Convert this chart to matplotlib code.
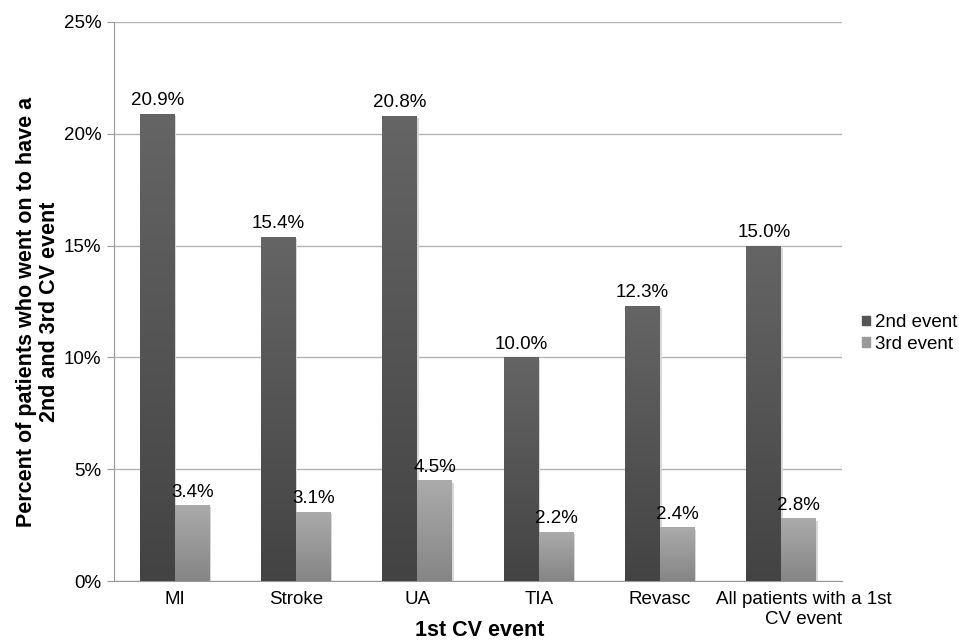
import numpy as np
import matplotlib.pyplot as plt
import matplotlib.transforms as mtransforms
from matplotlib.colors import LinearSegmentedColormap
from matplotlib.patches import Patch

plt.rcParams['font.family'] = ['Liberation Sans', 'DejaVu Sans']

categories = ['MI', 'Stroke', 'UA', 'TIA', 'Revasc', 'All patients with a 1st\nCV event']
second_event = [20.9, 15.4, 20.8, 10.0, 12.3, 15.0]
third_event = [3.4, 3.1, 4.5, 2.2, 2.4, 2.8]
series_names = ['2nd event', '3rd event']

fig = plt.figure(figsize=(9.59, 6.41), dpi=100)
ax = fig.add_axes([0.1189, 0.0936, 0.7592, 0.8721])

x = np.arange(len(categories))
w = 0.288
fs = 13.5

# gradient colormaps (bottom -> top)
cm_dark = LinearSegmentedColormap.from_list('d', ['#434343', '#656565'])
cm_light = LinearSegmentedColormap.from_list('l', ['#858585', '#ababab'])
grad = np.linspace(0, 1, 256).reshape(-1, 1)

def gradient_bars(xs, vals, cmap, color):
    bars = ax.bar(xs, vals, w, color=color, zorder=3, linewidth=0)
    for b in bars:
        x0, y0 = b.get_x(), b.get_y()
        # soft shadow
        ax.add_patch(plt.Rectangle((x0 + 0.012, y0), b.get_width(), b.get_height() - 0.1,
                                   color='#d8d8d8', zorder=2, lw=0))
        im = ax.imshow(grad, cmap=cmap, aspect='auto', origin='lower',
                       extent=[x0, x0 + b.get_width(), y0, y0 + b.get_height()], zorder=3)
        im.set_clip_path(b)
    return bars

gradient_bars(x - w / 2, second_event, cm_dark, '#555555')
gradient_bars(x + w / 2, third_event, cm_light, '#999999')

for xs, vals in [(x - w / 2, second_event), (x + w / 2, third_event)]:
    for xi, v in zip(xs, vals):
        ax.text(xi, v + 0.2, f'{v:.1f}%', ha='center', va='bottom', fontsize=fs, zorder=4)

ax.set_xlim(-0.5, len(categories) - 0.5)
ax.set_ylim(0, 25)
ax.set_yticks(np.arange(0, 26, 5))
ax.set_yticklabels([f'{t}%' for t in range(0, 26, 5)], fontsize=fs)
ax.set_xticks(x)
ax.set_xticklabels(categories, fontsize=fs, linespacing=1.25)
ax.tick_params(axis='x', length=0, pad=7)
ax.tick_params(axis='y', length=5, color='#999999', pad=4)
ax.yaxis.grid(True, color='#b3b3b3', linewidth=1, zorder=0)
ax.set_axisbelow(True)
for s in ['top', 'right']:
    ax.spines[s].set_visible(False)
ax.spines['left'].set_color('#999999')
ax.spines['bottom'].set_color('#999999')

# long last label is pushed right, like in the original
last = ax.get_xticklabels()[-1]
last.set_transform(last.get_transform() + mtransforms.ScaledTranslation(0.22, 0, fig.dpi_scale_trans))

fig.text(38 / 959, 1 - 312 / 641, 'Percent of patients who went on to have a\n2nd and 3rd CV event',
         rotation=90, ha='center', va='center', fontsize=15.5, fontweight='bold',
         linespacing=1.15)
fig.text(480 / 959, 1 - 630 / 641, '1st CV event', ha='center', va='center',
         fontsize=15.5, fontweight='bold')

handles = [Patch(color='#555555'), Patch(color='#9a9a9a')]
fig.legend(handles, series_names, loc='center left', bbox_to_anchor=(0.899, 0.48),
           frameon=False, fontsize=fs, handlelength=0.4, handleheight=0.4,
           handletextpad=0.3, labelspacing=0.25, borderpad=0, borderaxespad=0)

fig.savefig('out.png', dpi=100)
